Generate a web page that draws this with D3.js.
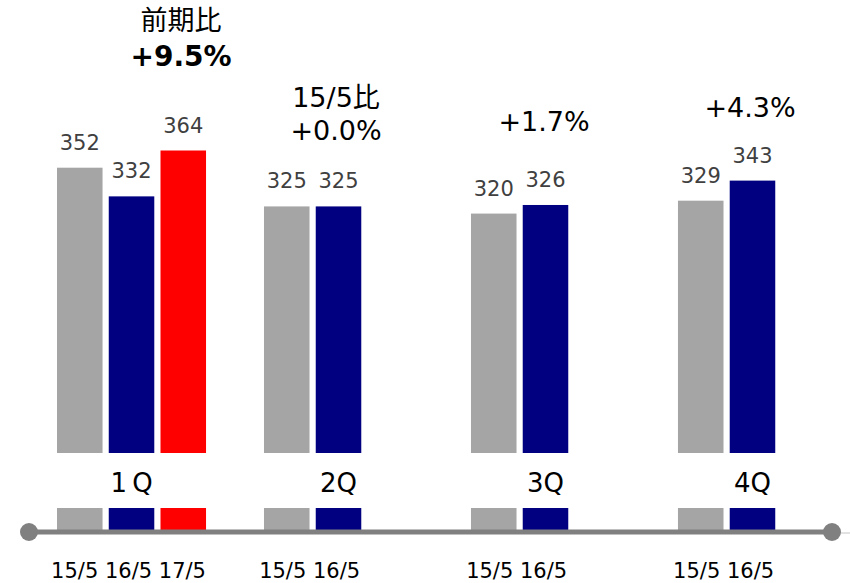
<!DOCTYPE html>
<html>
<head>
<meta charset="utf-8">
<script src="https://cdn.jsdelivr.net/npm/d3@7"></script>
<style>
  body { margin: 0; background: #fff; }
  svg text { font-family: "DejaVu Sans", Verdana, "Noto Sans CJK JP", sans-serif; }
</style>
</head>
<body>
<svg width="850" height="583"></svg>
<script>
const quarters = ['1Q', '2Q', '3Q', '4Q'];
const quarterLabels = ['1\u2009Q', '2Q', '3Q', '4Q'];
const seriesKeys = ['15/5', '16/5', '17/5'];
const values15 = [352, 325, 320, 329];
const values16 = [332, 325, 326, 343];
const values17 = [364, null, null, null];
const noteLines = [['前期比', '+9.5%'], ['15/5比', '+0.0%'], ['+1.7%'], ['+4.3%']];

const svg = d3.select('svg');
const colors = {'15/5': '#a5a5a5', '16/5': '#000080', '17/5': '#ff0000'};

const data = quarters.map((q, i) => ({
    quarter: q,
    label: quarterLabels[i],
    notes: noteLines[i],
    bars: [
        {key: '15/5', value: values15[i]},
        {key: '16/5', value: values16[i]},
        {key: '17/5', value: values17[i]}
    ].filter(d => d.value != null)
}));

const xscale = d3.scaleBand()
    .domain(quarters)
    .range([57, 827])
    .paddingInner(0.28)
    .paddingOuter(0);

const xinner = d3.scaleBand()
    .domain(seriesKeys)
    .range([0, xscale.bandwidth()])
    .paddingInner(0.12);

// broken axis: upper part for the top of the bars, a short stub above the base line
const breakValue = 153;
const yscale = d3.scaleLinear().domain([breakValue, 364]).range([453, 150.5]);
const ylow = d3.scaleLinear().domain([0, 20]).range([532, 508]);

const groups = svg.selectAll('g.quarter')
    .data(data)
    .enter()
    .append('g')
    .attr('class', 'quarter')
    .attr('transform', d => 'translate(' + xscale(d.quarter) + ',0)');

groups.selectAll('rect.upper')
    .data(d => d.bars)
    .enter()
    .append('rect')
    .attr('class', 'upper')
    .attr('x', d => xinner(d.key))
    .attr('y', d => yscale(d.value))
    .attr('width', xinner.bandwidth())
    .attr('height', d => yscale(breakValue) - yscale(d.value))
    .style('fill', d => colors[d.key]);

groups.selectAll('rect.lower')
    .data(d => d.bars)
    .enter()
    .append('rect')
    .attr('class', 'lower')
    .attr('x', d => xinner(d.key))
    .attr('y', ylow(20))
    .attr('width', xinner.bandwidth())
    .attr('height', ylow(0) - ylow(20))
    .style('fill', d => colors[d.key]);

groups.selectAll('text.value')
    .data(d => d.bars)
    .enter()
    .append('text')
    .attr('class', 'value')
    .attr('x', d => xinner(d.key) + xinner.bandwidth() / 2)
    .attr('y', d => yscale(d.value) - 18)
    .attr('text-anchor', 'middle')
    .attr('font-size', 21)
    .attr('fill', '#404040')
    .text(d => d.value);

// quarter name, centred on the middle slot
groups.append('text')
    .attr('x', xinner('16/5') + xinner.bandwidth() / 2)
    .attr('y', 492)
    .attr('text-anchor', 'middle')
    .attr('font-size', 26)
    .attr('fill', '#000')
    .text(d => d.label);

// series names under each group
groups.append('text')
    .attr('x', d => {
        const last = d.bars[d.bars.length - 1].key;
        return (xinner(last) + xinner.bandwidth()) / 2 - 3;
    })
    .attr('y', 578)
    .attr('text-anchor', 'middle')
    .attr('font-size', 21)
    .attr('fill', '#000')
    .text(d => d.bars.map(b => b.key).join(' '));

// growth notes
const noteY = [[30, 66], [107, 140], [131], [117]];
const noteX = [181, 336, 544, 750];
data.forEach((d, i) => {
    d.notes.forEach((t, j) => {
        svg.append('text')
            .attr('x', noteX[i])
            .attr('y', noteY[i][j])
            .attr('text-anchor', 'middle')
            .attr('font-size', (i === 0 && j === 1) ? 28 : 27)
            .attr('font-weight', (i === 0 && j === 1) ? 'bold' : 'normal')
            .attr('fill', '#000')
            .text(t);
    });
});

// base line with end dots
svg.append('line')
    .attr('x1', 832).attr('x2', 850)
    .attr('y1', 533).attr('y2', 533)
    .attr('stroke', '#d9d9d9')
    .attr('stroke-width', 1.5);

svg.append('line')
    .attr('x1', 29).attr('x2', 832)
    .attr('y1', 532).attr('y2', 532)
    .attr('stroke', '#808080')
    .attr('stroke-width', 5);

svg.selectAll('circle.end')
    .data([29, 832])
    .enter()
    .append('circle')
    .attr('class', 'end')
    .attr('cx', d => d)
    .attr('cy', 532)
    .attr('r', 9)
    .attr('fill', '#808080');
</script>
</body>
</html>
